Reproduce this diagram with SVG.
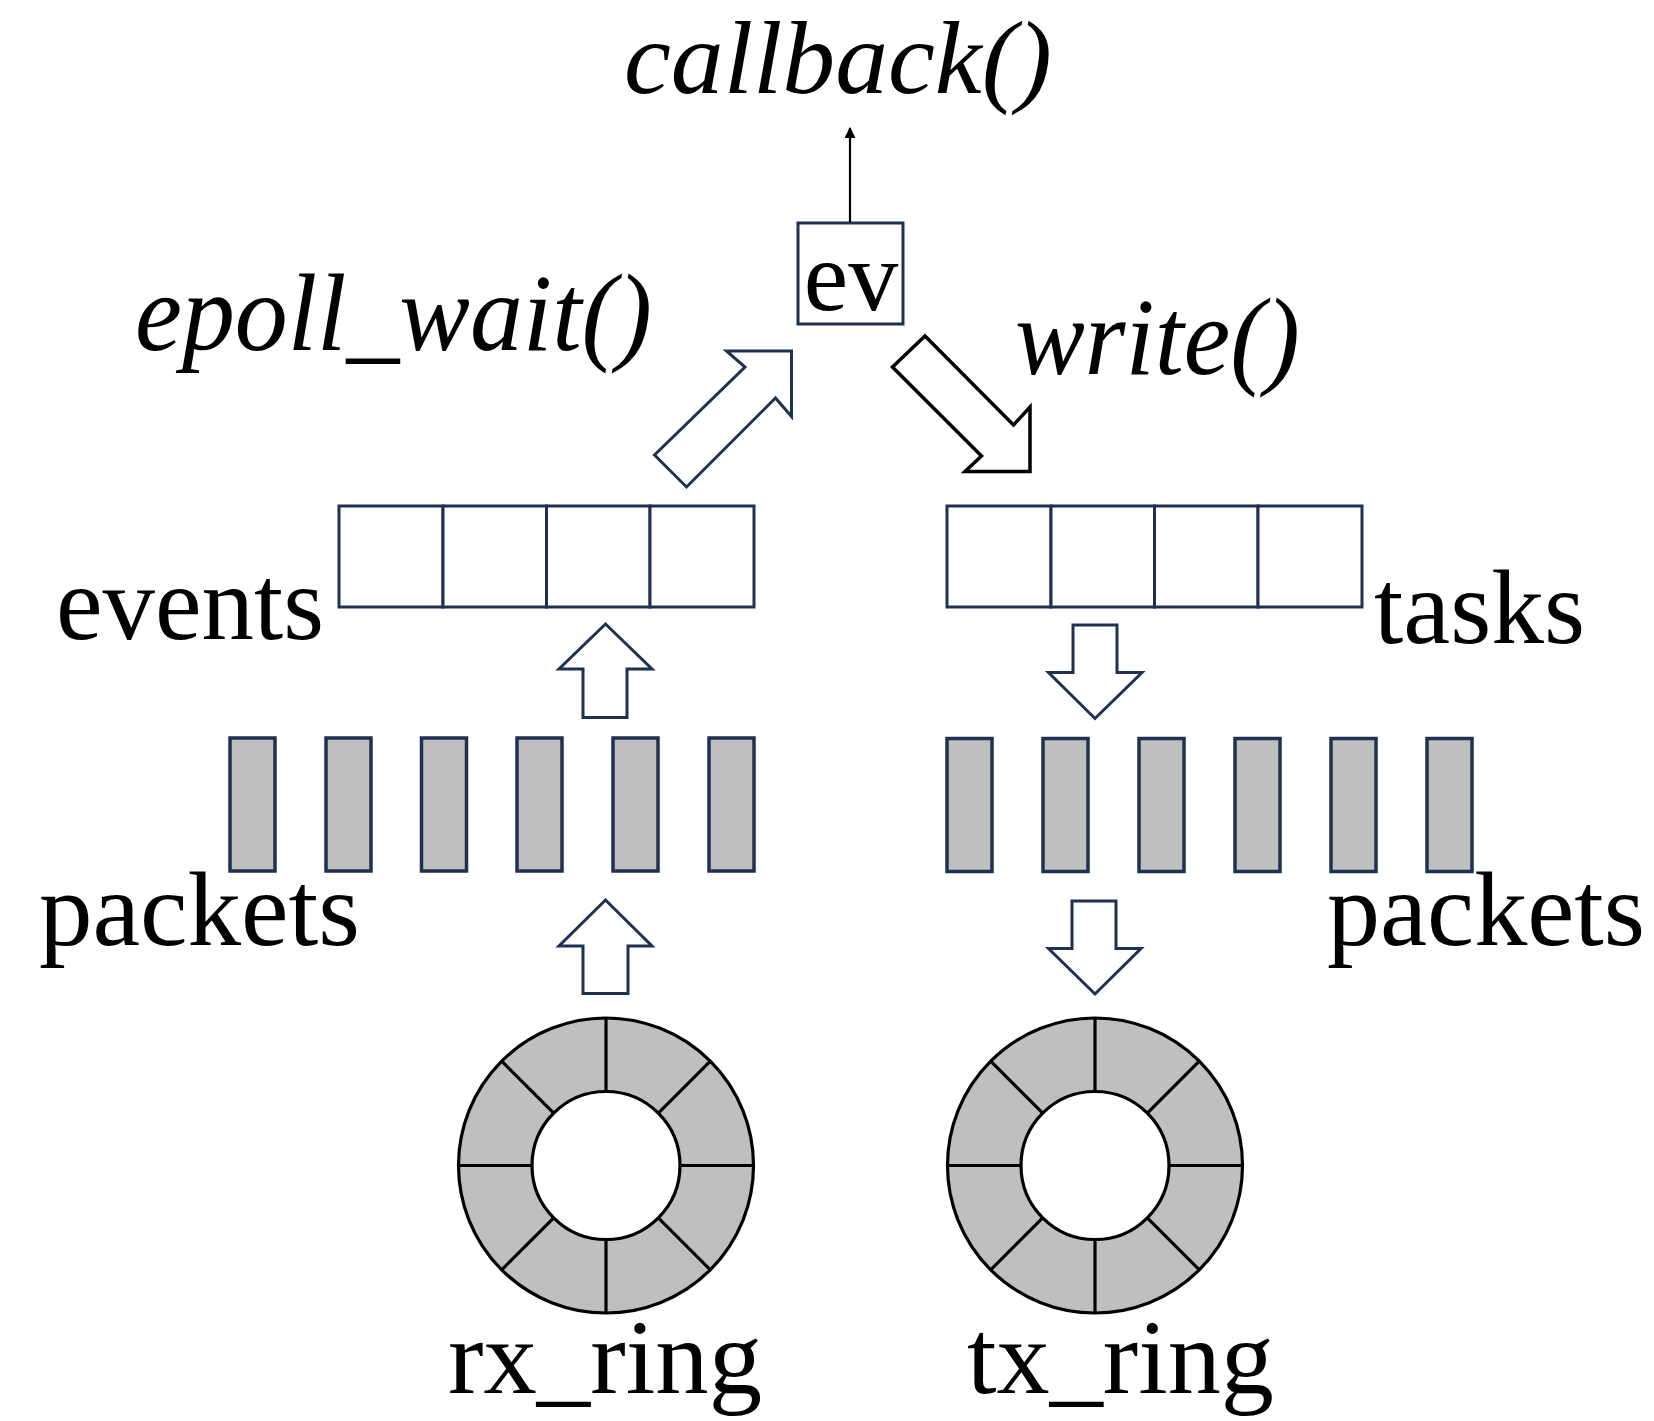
<svg xmlns="http://www.w3.org/2000/svg" width="1654" height="1421" viewBox="0 0 1654 1421">
<style>
.t{font-family:"Liberation Serif","Times New Roman",serif;font-size:105px;fill:#000}
.i{font-style:italic;font-size:110px}
.nv{fill:#fff;stroke:#1F3050;stroke-width:3}
.bar{fill:#BFBFBF;stroke:#1F3050;stroke-width:3.5}
.blk{fill:#fff;stroke:#000;stroke-width:3.5}
.ring{fill:#BFBFBF;stroke:#000;stroke-width:3.2}
.sp{stroke:#000;stroke-width:3.2}
</style>
<defs>
<marker id="ah" viewBox="0 0 10 10" refX="9" refY="5" markerWidth="5" markerHeight="5" orient="auto" markerUnits="strokeWidth">
<path d="M0,0 L10,5 L0,10 z" fill="#000"/>
</marker>
<g id="ringshape">
<circle r="147.5" class="ring"/>
<circle r="74" fill="#fff" stroke="#000" stroke-width="3.2"/>
<line class="sp" x1="0" y1="-74" x2="0" y2="-147.5"/>
<line class="sp" x1="0" y1="74" x2="0" y2="147.5"/>
<line class="sp" x1="-74" y1="0" x2="-147.5" y2="0"/>
<line class="sp" x1="74" y1="0" x2="147.5" y2="0"/>
<line class="sp" x1="52.3" y1="-52.3" x2="104.3" y2="-104.3"/>
<line class="sp" x1="-52.3" y1="-52.3" x2="-104.3" y2="-104.3"/>
<line class="sp" x1="52.3" y1="52.3" x2="104.3" y2="104.3"/>
<line class="sp" x1="-52.3" y1="52.3" x2="-104.3" y2="104.3"/>
</g>
</defs>

<g id="labels">
<text class="t i" x="624" y="93" font-size="104" style="font-size:104px" textLength="428" lengthAdjust="spacingAndGlyphs">callback()</text>
<text class="t i" x="135" y="350" textLength="517" lengthAdjust="spacingAndGlyphs">epoll_wait()</text>
<text class="t i" x="1015" y="374" textLength="285" lengthAdjust="spacingAndGlyphs">write()</text>
<text class="t" x="56" y="639" textLength="268" lengthAdjust="spacingAndGlyphs">events</text>
<text class="t" x="1374" y="643" textLength="211" lengthAdjust="spacingAndGlyphs">tasks</text>
<text class="t" x="39" y="945" textLength="321" lengthAdjust="spacingAndGlyphs">packets</text>
<text class="t" x="1327" y="945" textLength="318" lengthAdjust="spacingAndGlyphs">packets</text>
<text class="t" x="448" y="1393" textLength="314" lengthAdjust="spacingAndGlyphs">rx_ring</text>
<text class="t" x="967" y="1393" textLength="307" lengthAdjust="spacingAndGlyphs">tx_ring</text>
</g>

<g id="ev">
<rect class="nv" x="798" y="223" width="105" height="101"/>
<text class="t" x="851" y="310" text-anchor="middle" font-size="100" style="font-size:100px">ev</text>
</g>

<g id="events">
<rect class="nv" x="339" y="506" width="104" height="101"/>
<rect class="nv" x="443" y="506" width="103.5" height="101"/>
<rect class="nv" x="546.5" y="506" width="103.5" height="101"/>
<rect class="nv" x="650" y="506" width="104" height="101"/>
</g>

<g id="tasks">
<rect class="nv" x="947" y="506" width="104" height="101"/>
<rect class="nv" x="1051" y="506" width="103.5" height="101"/>
<rect class="nv" x="1154.5" y="506" width="103.5" height="101"/>
<rect class="nv" x="1258" y="506" width="104" height="101"/>
</g>

<g id="rx-packets">
<rect class="bar" x="230" y="738" width="45" height="133"/>
<rect class="bar" x="326" y="738" width="45" height="133"/>
<rect class="bar" x="421.5" y="738" width="45" height="133"/>
<rect class="bar" x="517" y="738" width="45" height="133"/>
<rect class="bar" x="613" y="738" width="45" height="133"/>
<rect class="bar" x="709" y="738" width="45" height="133"/>
</g>

<g id="tx-packets">
<rect class="bar" x="947" y="738.5" width="45" height="133"/>
<rect class="bar" x="1043" y="738.5" width="45" height="133"/>
<rect class="bar" x="1139" y="738.5" width="45" height="133"/>
<rect class="bar" x="1235" y="738.5" width="45" height="133"/>
<rect class="bar" x="1331" y="738.5" width="45" height="133"/>
<rect class="bar" x="1427" y="738.5" width="45" height="133"/>
</g>

<g id="rx_ring"><use href="#ringshape" x="606" y="1165.5"/></g>
<g id="tx_ring"><use href="#ringshape" x="1095" y="1165.5"/></g>

<g id="connectors">
<line x1="850" y1="222" x2="850" y2="128" stroke="#000" stroke-width="2.2" marker-end="url(#ah)"/>
<polygon class="nv" points="654.5,455 686.5,487 775.5,398 791.5,416.5 791.5,351 726.5,351 745,367"/>
<polygon class="blk" points="892.5,367 925,336 1013.5,425 1030,407 1030,471.5 965,471.5 981.5,456"/>
<polygon class="nv" points="605.5,624 652,669 627,669 627,717.5 583,717.5 583,669 559,669"/>
<polygon class="nv" points="605.5,900 652,946 628,946 628,993.5 583,993.5 583,946 559,946"/>
<polygon class="nv" points="1073,625 1117,625 1117,672.5 1142,672.5 1095,718.5 1048.5,672.5 1073,672.5"/>
<polygon class="nv" points="1072,901 1116,901 1116,948.5 1141,948.5 1095,994 1048.5,948.5 1072,948.5"/>
</g>
</svg>
